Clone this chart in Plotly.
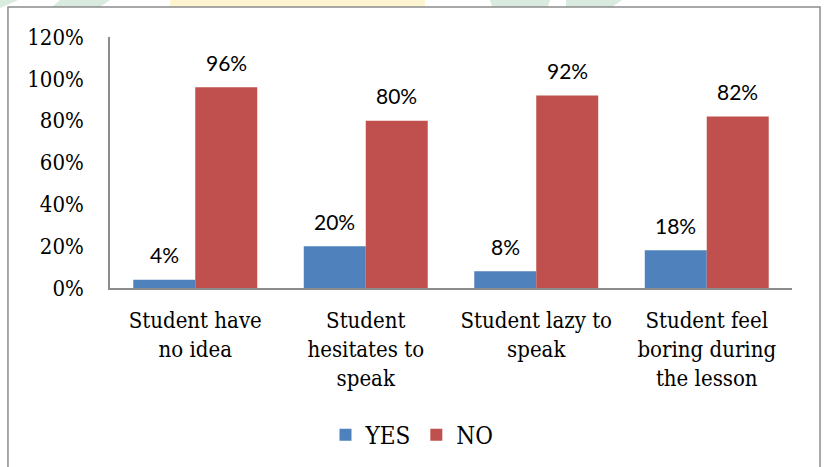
import plotly.graph_objects as go

# Survey responses per reason
categories = [
    "Student have<br>no idea",
    "Student<br>hesitates to<br>speak",
    "Student lazy to<br>speak",
    "Student feel<br>boring during<br>the lesson",
]
yes_values = [0.04, 0.20, 0.08, 0.18]
no_values = [0.96, 0.80, 0.92, 0.82]
y_ticks = [0, 0.2, 0.4, 0.6, 0.8, 1.0, 1.2]

BLUE = "#4F81BD"
RED = "#C0504D"
AXIS_GRAY = "#8C8C8C"
SERIF = "DejaVu Serif Condensed, DejaVu Serif"
SANS = "Lato"

fig = go.Figure()
fig.add_trace(go.Bar(name="YES", x=categories, y=yes_values, marker=dict(color=BLUE, line=dict(width=0))))
fig.add_trace(go.Bar(name="NO", x=categories, y=no_values, marker=dict(color=RED, line=dict(width=0))))

# Value labels above each bar
annotations = []
for series, shift in ((yes_values, -31), (no_values, 31)):
    for cat, v in zip(categories, series):
        annotations.append(dict(
            x=cat, y=v, xref="x", yref="y",
            text=f"{round(v * 100)}%", showarrow=False,
            xshift=shift, yshift=25, yanchor="middle",
            font=dict(family=SANS, size=21, color="#000000"),
        ))

# Outer chart frame and faint page decoration at the top edge
shapes = [
    dict(type="rect", xref="paper", yref="paper",
         x0=-0.1496, x1=1.0411, y0=-0.73, y1=1.1195,
         line=dict(color=AXIS_GRAY, width=1.5), fillcolor="rgba(0,0,0,0)", layer="above"),
]
decor = [
    ("#d9eadf", [(0, 0), (18, 0), (0, 8)]),
    ("#d9eadf", [(60, 0), (110, 0), (100, 7), (52, 7)]),
    ("#fdf5d2", [(170, 0), (425, 0), (425, 7), (170, 7)]),
    ("#d9eadf", [(490, 0), (550, 0), (548, 7), (492, 7)]),
    ("#d9eadf", [(566, 0), (622, 0), (612, 7), (566, 7)]),
]
for color, pts in decor:
    path = "M " + " L ".join(f"{(px - 110) / 682:.4f},{(288 - py) / 251:.4f}" for px, py in pts) + " Z"
    shapes.append(dict(type="path", xref="paper", yref="paper", path=path,
                       fillcolor=color, line=dict(width=0), layer="below"))

fig.update_layout(
    width=824, height=467,
    margin=dict(l=110, r=32, t=37, b=179),
    paper_bgcolor="white", plot_bgcolor="white",
    barmode="group", bargap=0.273, bargroupgap=0,
    showlegend=True,
    legend=dict(
        orientation="h", xref="container", yref="container",
        x=0.5, xanchor="center", y=0.068, yanchor="middle",
        font=dict(family=SERIF, size=24, color="#000000"),
        itemwidth=30, tracegroupgap=0,
    ),
    annotations=annotations,
    shapes=shapes,
    xaxis=dict(
        showline=True, linecolor=AXIS_GRAY, linewidth=2,
        showgrid=False, ticks="", ticklabelstandoff=12,
        tickfont=dict(family=SERIF, size=22, color="#000000"),
    ),
    yaxis=dict(
        range=[0, 1.2], tickvals=y_ticks, tickformat=".0%",
        showline=True, linecolor=AXIS_GRAY, linewidth=1.5,
        showgrid=False, zeroline=False, ticks="", ticklabelstandoff=20,
        tickfont=dict(family=SERIF, size=22, color="#000000"),
    ),
)

fig.write_html("out.html")
